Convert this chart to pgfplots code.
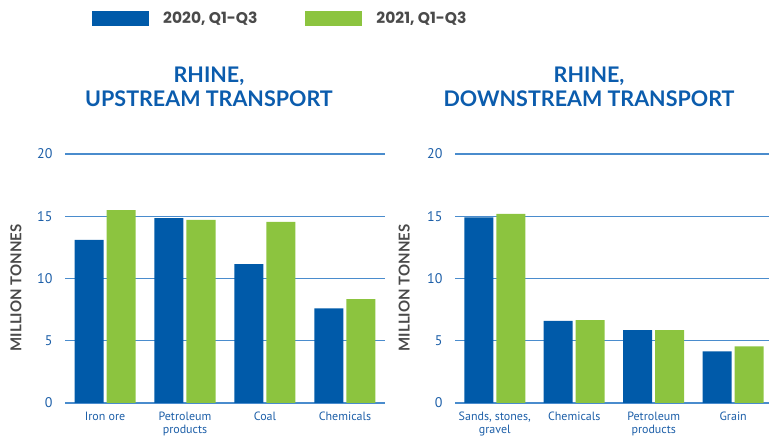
\documentclass[border=0pt]{standalone}
\usepackage{pgfplots}
\pgfplotsset{compat=1.18}
\usepackage{fontspec}
\setmainfont{PT Sans}
\newfontfamily\pop{Poppins}
\newfontfamily\lato{Lato}
\definecolor{barblue}{HTML}{005AA9}
\definecolor{bargreen}{HTML}{8CC43F}
\definecolor{gridblue}{HTML}{4A8CCD}
\definecolor{tickblue}{HTML}{1D5FA8}
\definecolor{titleblue}{HTML}{0B5CAD}
\definecolor{labgray}{HTML}{4A4A4A}
\pgfplotsset{
  panel/.style={
    scale only axis,
    anchor=south west,
    height=249pt,
    ymin=0, ymax=20,
    xmin=-0.5,
    ytick={0,5,10,15,20},
    ymajorgrids,
    major grid style={draw=gridblue, line width=1.1pt},
    axis line style={draw=none},
    tick style={draw=none},
    ybar=3pt,
    bar width=29pt,
    xtick={0,1,2,3},
    clip=false,
    yticklabel style={font=\fontsize{14}{14}\selectfont, text=tickblue, xshift=-9pt},
    xticklabel style={font=\fontsize{12}{13.5}\selectfont, text=tickblue, align=center, yshift=-1pt},
    /pgf/number format/assume math mode=true,
    title style={font=\lato\bfseries\fontsize{21.5}{24}\selectfont, text=titleblue, align=center, anchor=south},
    ylabel={MILLION TONNES},
  },
}
\begin{document}
\begin{tikzpicture}
\path[use as bounding box] (0,0) rectangle (769pt,438pt);
\begin{axis}[panel,
  at={(65pt,35pt)},
  width=320pt,
  xmax=3.5,
  xticklabels={Iron ore,{Petroleum\\products},Coal,Chemicals},
  title={RHINE,\\UPSTREAM TRANSPORT},
  title style={at={(axis description cs:0.45,1)}, yshift=38pt},
  ylabel style={at={(axis description cs:-0.153,0.462)},rotate=0,anchor=center,
    font=\lato\bfseries\fontsize{15}{15}\selectfont, text=labgray},
  legend columns=2,
  legend style={draw=none, fill=none, at={(axis description cs:0.075,1.588)}, anchor=north west,
    font=\pop\bfseries\fontsize{15.5}{15.5}\selectfont, text=labgray,
    /tikz/every odd column/.append style={column sep=12pt},
    /tikz/every even column/.append style={column sep=46pt}},
  legend image code/.code={\fill[#1] (0pt,-7.5pt) rectangle (57pt,7.5pt);},
]
\addplot[fill=barblue, draw=none] coordinates {(0,13.1) (1,14.85) (2,11.15) (3,7.6)};
\addplot[fill=bargreen, draw=none] coordinates {(0,15.5) (1,14.7) (2,14.55) (3,8.35)};
\legend{2020{,} Q1-Q3, 2021{,} Q1-Q3}
\end{axis}
\begin{axis}[panel,
  at={(455pt,35pt)},
  width=314pt,
  xmax=3.45,
  xticklabels={{Sands, stones,\\gravel},Chemicals,{Petroleum\\products},Grain},
  title={RHINE,\\DOWNSTREAM TRANSPORT},
  title style={at={(axis description cs:0.427,1)}, yshift=38pt},
  ylabel style={at={(axis description cs:-0.162,0.462)},rotate=0,anchor=center,
    font=\lato\bfseries\fontsize{15}{15}\selectfont, text=labgray},
]
\addplot[fill=barblue, draw=none] coordinates {(0,14.9) (1,6.6) (2,5.85) (3,4.15)};
\addplot[fill=bargreen, draw=none] coordinates {(0,15.2) (1,6.65) (2,5.85) (3,4.55)};
\end{axis}
\end{tikzpicture}
\end{document}
